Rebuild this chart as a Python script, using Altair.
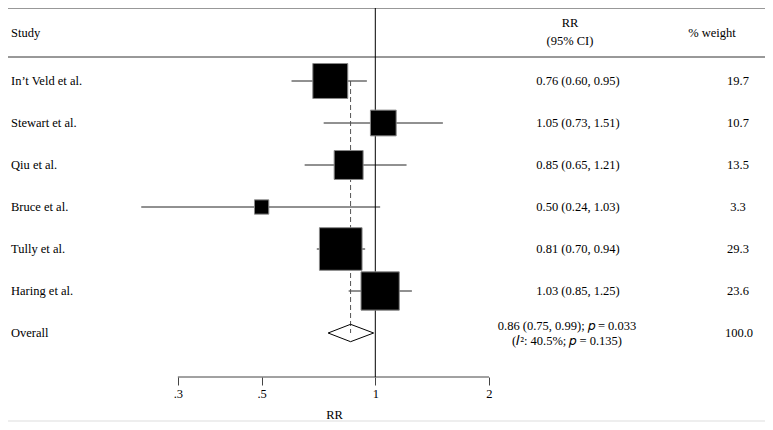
import math
import altair as alt
import pandas as pd

# ---------------- data ----------------
studies = ["In’t Veld et al.", "Stewart et al.", "Qiu et al.", "Bruce et al.",
           "Tully et al.", "Haring et al."]
rr = [0.76, 1.05, 0.85, 0.50, 0.81, 1.03]
rr_lo = [0.60, 0.73, 0.65, 0.24, 0.70, 0.85]
rr_hi = [0.95, 1.51, 1.21, 1.03, 0.94, 1.25]
weights = [19.7, 10.7, 13.5, 3.3, 29.3, 23.6]

overall_label = "Overall"
overall_rr = 0.86
overall_lo = 0.75
overall_hi = 0.99
overall_p = "0.033"
overall_i2 = "40.5%"
overall_p_het = "0.135"
overall_weight = 100.0

axis_ticks = [0.3, 0.5, 1, 2]
axis_tick_labels = [".3", ".5", "1", "2"]

# ---------------- layout constants ----------------
FONT = "Liberation Serif"
FS = 12.5
W, H = 757, 367          # plot area: page x 8..765, page y 10..377
PAD_TOP = 2
PX_PER_LN = 164.0
X_ONE = 375.3 - 8        # pixel of RR = 1 inside the plot
ROW0 = 39 - 10           # pixel of row 0 inside the plot
ROW_H = 42.0

def row_of(py):
    return (py - ROW0) / ROW_H

x_dom = [math.exp((0 - X_ONE) / PX_PER_LN), math.exp((W - X_ONE) / PX_PER_LN)]
y_dom = [row_of(0), row_of(H)]

n = len(studies)
rows = list(range(1, n + 1))
overall_row = n + 1

df = pd.DataFrame({
    "study": studies, "rr": rr, "lo": rr_lo, "hi": rr_hi, "w": weights, "row": rows,
    "ci": [f"{a:.2f} ({b:.2f}, {c:.2f})" for a, b, c in zip(rr, rr_lo, rr_hi)],
    "wt": [f"{v:.1f}" for v in weights],
})

xs = alt.Scale(type="log", domain=x_dom, nice=False, zero=False)
ys = alt.Scale(domain=y_dom, reverse=True, nice=False, zero=False)

label_expr = " : ".join(f"datum.value == {t} ? '{l}'" for t, l in zip(axis_ticks, axis_tick_labels)) + " : ''"

XAXIS = alt.Axis(
    values=axis_ticks, labelExpr=label_expr, domain=False, grid=False,
    tickSize=8, tickColor="#444", labelFont=FONT, labelFontSize=FS, labelColor="#000",
    labelPadding=2, title="RR", titleFont=FONT, titleFontSize=FS, titleFontWeight="normal",
    titleColor="#000", titleX=334 - 8, titleY=31)

X = lambda f: alt.X(f, type="quantitative", scale=xs, axis=XAXIS)
Y = lambda f: alt.Y(f, type="quantitative", scale=ys, axis=None)

base = alt.Chart(df)

# horizontal rules (top, under header, bottom)
hrules = alt.Chart(pd.DataFrame({"y": [row_of(-2), row_of(47)]})).mark_rule(
    color="#333", strokeWidth=1).encode(y=Y("y"))
bottom_rule = alt.Chart(pd.DataFrame({"y": [row_of(411)]})).mark_rule(
    color="#dddddd", strokeWidth=1).encode(y=Y("y"))

# x axis line (from first to last tick)
axis_df = pd.DataFrame({"x": [min(axis_ticks)], "x2": [max(axis_ticks)], "y": [y_dom[1]]})
axis_layer = alt.Chart(axis_df).mark_rule(color="#444", strokeWidth=1).encode(
    x=X("x"), x2="x2:Q", y=Y("y"))

# vertical line of no effect
null_df = pd.DataFrame({"x": [1.0], "y": [row_of(-2)], "y2": [y_dom[1]]})
null_line = alt.Chart(null_df).mark_rule(color="#000", strokeWidth=1).encode(
    x=X("x"), y=Y("y"), y2="y2:Q")

# dashed line at overall estimate
dash_df = pd.DataFrame({"x": [overall_rr], "y": [rows[0]], "y2": [overall_row]})
dash_line = alt.Chart(dash_df).mark_rule(color="#555", strokeWidth=1, strokeDash=[5, 3]).encode(
    x=X("x"), y=Y("y"), y2="y2:Q")

# confidence intervals
ci_lines = base.mark_rule(color="#222", strokeWidth=1).encode(
    x=X("lo"), x2="hi:Q", y=Y("row"))

# weight squares (area proportional to weight)
squares = base.mark_square(filled=True, color="#000", stroke="#888", strokeWidth=1, opacity=1).encode(
    x=X("rr"), y=Y("row"),
    size=alt.Size("w:Q", scale=alt.Scale(domain=[0, 100], range=[0, 6200]), legend=None))

# overall diamond
hh = 8.7 / ROW_H
dia_df = pd.DataFrame({
    "x": [overall_lo, overall_rr, overall_hi, overall_rr, overall_lo],
    "y": [overall_row, overall_row - hh, overall_row, overall_row + hh, overall_row],
    "o": [0, 1, 2, 3, 4]})
diamond = alt.Chart(dia_df).mark_line(color="#000", strokeWidth=1).encode(
    x=X("x"), y=Y("y"), order="o:O")

tx = dict(font=FONT, fontSize=FS, color="#000", baseline="middle")

# header texts
hdr_row = row_of(23)
study_hdr = alt.Chart(pd.DataFrame({"t": ["Study"], "y": [hdr_row]})).mark_text(
    align="left", **tx).encode(x=alt.value(3), y=Y("y"), text="t:N")
rr_hdr = alt.Chart(pd.DataFrame({"t": ["RR", "(95% CI)"], "y": [row_of(13), row_of(31)]})).mark_text(
    align="center", **tx).encode(x=alt.value(570 - 8), y=Y("y"), text="t:N")
wt_hdr = alt.Chart(pd.DataFrame({"t": ["% weight"], "y": [hdr_row]})).mark_text(
    align="center", **tx).encode(x=alt.value(712 - 8), y=Y("y"), text="t:N")

# row texts
names = base.mark_text(align="left", **tx).encode(x=alt.value(3), y=Y("row"), text="study:N")
ci_txt = base.mark_text(align="center", **tx).encode(x=alt.value(578 - 8), y=Y("row"), text="ci:N")
wt_txt = base.mark_text(align="center", **tx).encode(x=alt.value(738 - 8), y=Y("row"), text="wt:N")

ov_lines = [f"{overall_rr:.2f} ({overall_lo:.2f}, {overall_hi:.2f}); 𝑝 = {overall_p}",
            f"(𝐼²: {overall_i2}; 𝑝 = {overall_p_het})"]
ov_df = pd.DataFrame({"name": [overall_label], "y": [overall_row], "wt": [f"{overall_weight:.1f}"]})
ov_ci_df = pd.DataFrame({"t": ov_lines, "y": [overall_row - 7 / ROW_H, overall_row + 8 / ROW_H]})
ov_name = alt.Chart(ov_df).mark_text(align="left", **tx).encode(x=alt.value(3), y=Y("y"), text="name:N")
ov_ci = alt.Chart(ov_ci_df).mark_text(align="center", **tx).encode(
    x=alt.value(567 - 8), y=Y("y"), text="t:N")
ov_wt = alt.Chart(ov_df).mark_text(align="center", **tx).encode(x=alt.value(739 - 8), y=Y("y"), text="wt:N")

chart = alt.layer(
    hrules, bottom_rule, axis_layer, ci_lines, dash_line, null_line, squares, diamond,
    study_hdr, rr_hdr, wt_hdr, names, ci_txt, wt_txt, ov_name, ov_ci, ov_wt,
).properties(
    width=W, height=H, background="#ffffff",
    autosize=alt.AutoSizeParams(type="none"),
    padding={"left": 0, "top": PAD_TOP, "right": 0, "bottom": 50},
).configure_view(stroke=None)

chart.save("out.html", embed_options={"renderer": "svg", "actions": False})
